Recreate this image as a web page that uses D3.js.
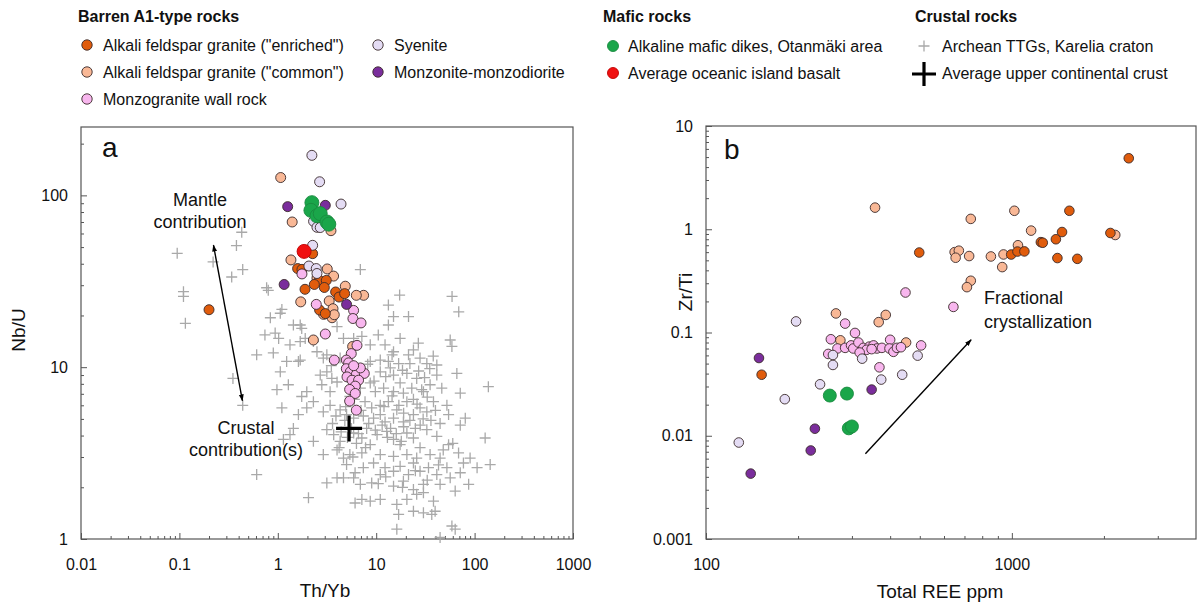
<!DOCTYPE html>
<html>
<head>
<meta charset="utf-8">
<script src="https://cdn.jsdelivr.net/npm/d3@7"></script>
<style>
body{margin:0;background:#fff;}
svg{font-family:"Liberation Sans",Arial,sans-serif;}
</style>
</head>
<body>
<svg id="chart" width="1199" height="605"></svg>
<script>

// ---- panel a : Th/Yb vs Nb/U ----
const a_enriched = [[0.20,21.6],[2.26,45.8],[1.59,37.5],[1.76,37.1],[1.89,28.4],[2.64,32.0],[3.11,32.0],[2.35,30.3],[2.97,29.1],[3.87,27.4],[4.19,25.6],[4.78,26.8],[2.66,21.5],[3.04,20.5]];
const a_common = [[1.07,127],[1.40,70],[3.47,62.3],[1.36,42.1],[3.18,37.3],[3.69,33.9],[2.5,33],[4.85,29.6],[7.45,26.2],[6.28,26.2],[1.71,24.0],[3.33,24.3],[3.64,21.9],[2.92,20.3],[3.56,19.4],[3.75,20.2],[2.30,14.4],[5.76,13.2]];
const a_monzogranite = [[1.76,34.9],[2.46,23.2],[5.89,21.4],[5.80,19.2],[7.01,18.1],[3.04,15.6],[6.38,13.4],[5.58,12.0],[3.75,11.0],[4.97,11.0],[5.25,10.6],[4.97,9.8],[5.46,9.4],[6.28,9.07],[7.57,9.2],[5.05,8.78],[5.68,8.4],[6.62,8.4],[6.12,7.76],[5.37,7.42],[6.12,7.03],[5.37,6.35],[6.28,5.62],[6.9,9.9],[5.9,10.2]];
const a_syenite = [[2.22,171],[2.66,120],[4.39,89],[2.31,70.6],[2.50,65.2],[2.70,65],[2.26,51.2],[2.07,38.8],[2.46,37.5],[2.50,35.1]];
const a_monzonite = [[1.26,86],[3.04,87.5],[2.68,74.8],[1.16,30.3],[5.0,23.2]];
const a_mafic = [[2.22,90.7],[2.17,81.8],[2.5,76],[2.70,78.3],[3.16,70],[3.3,68]];
const a_oib = [[1.85,47.2]];
const a_ucc = [[5.3,4.4]];
const a_arrow = [[0.437,6.38],[0.222,51.3]];

const ttg_karelia = [
 [0.43,61],[0.095,46],[0.38,51],[0.22,41],[0.44,37],[0.34,33.5],[6.9,37],
 [0.11,27.5],[0.11,25.8],[0.77,29],[0.80,28],[17.3,26.3],[59,25.8],[1.10,21.7],[1.06,20.6],[13.3,23],[21.3,19.7],[69,21],[15,19.7],[0.115,18],[0.84,19.4],[13.3,17.6],
 [0.74,15.4],[0.94,15.8],[1.02,14.7],[1.69,17.6],[1.75,16.8],[1.9,14.7],[1.44,17.6],[4.0,17.2],[4.65,14.7],[5.9,14.7],[7.15,15.1],[10.5,15.4],[17.5,14.7],[26.8,13.8],[56.5,14.4],[58.8,13.2],[0.61,11.8],[0.90,12.1],[1.33,13.5],[1.69,14.1],[2.3,14.1],[3.15,11.8],[8.7,13.5],[12.3,13.5],[15,12.3],[23.9,12.6],[21.3,11.8],[27.9,11.3],[2.9,11.3],[2.5,12.3],
 [1.23,10.8],[1.62,10.8],[1.69,11.0],[4.3,11.3],[8.7,10.8],[11,11],[13.3,10.8],[16.9,10.5],[32.7,10.5],[41.3,10.3],[66,9.2],[1.06,9.4],[2.7,9.0],[3.15,9.4],[3.54,8.6],[11,9.4],[13.9,9.9],[15,9.0],[20.5,9.2],[25.8,8.6],[41.3,9.0],[17.5,8.1],[23,7.55],[30.2,7.2],[35.3,7.9],[46.4,7.55],[71.5,7.06],[138,7.7],[1.28,7.9],[1.97,7.2],[2.8,7.9],[3.4,7.2],[6.9,7.55],[8.7,8.1],[9.8,7.2],[11.9,7.55],[15,7.2],[18.9,7.06],[0.35,8.6],[0.98,7.4],
 [1.1,5.8],[1.75,6.75],[2.3,6.3],[2.9,5.5],[3.4,6.0],[5.4,6.75],[7.7,6.3],[9.0,5.8],[11,6.0],[13.3,6.3],[16.2,5.65],[20.5,6.3],[23.9,6.5],[27.9,5.8],[32.7,5.5],[38.2,6.3],[52.3,6.0],[54.4,5.3],[80.4,5.05],[0.44,6.0],[1.62,5.3],[1.97,5.8],[4.3,5.65],[5.0,5.3],[5.9,5.05],[7.4,5.2],[9.4,5.05],[11,5.3],[12.3,4.8],[15,5.05],[18.9,4.8],[23.9,5.3],[44.6,4.7],[71.5,4.6],
 [1.44,4.4],[1.33,4.05],[1.14,3.8],[2.3,3.7],[3.15,4.33],[3.7,4.05],[4.3,3.7],[5.9,4.14],[7.15,3.87],[8.0,4.4],[10.2,4.05],[12.8,4.23],[15,3.8],[17.5,3.54],[20.5,4.14],[23.9,3.87],[27.9,3.4],[32.7,4.33],[41.3,3.96],[54.4,3.54],[68.7,3.17],[128,3.87],[2.9,3.1],[4.0,3.3],[5.4,3.1],[7.15,3.17],[8.7,3.54],[11,3.1],[15,3.03],[20.5,3.1],[25.8,2.96],[35.3,3.1],[44.6,2.96],[90,2.96],[77,2.77],
 [0.61,2.37],[3.15,2.12],[4.0,2.27],[4.65,2.96],[5.0,2.71],[6.1,2.43],[7.4,2.6],[9.4,2.77],[11,2.37],[12.3,2.6],[15,2.48],[17.5,2.65],[21.3,2.37],[23.9,2.77],[27.9,2.48],[34,2.6],[41.3,2.37],[52.3,2.6],[56.5,2.27],[71.5,2.43],[106,2.6],[144,2.71],[87,2.08],[4.65,2.27],[5.9,2.27],[6.9,2.08],[9.0,2.12],[15,2.03],[18.9,2.17],[23.9,1.94],[30.2,2.08],[44.6,2.08],[63.5,1.9],
 [2.05,1.74],[6.1,1.62],[7.15,1.7],[8.7,1.66],[11,1.7],[16.2,1.59],[20.5,1.7],[25.8,1.82],[30.2,1.86],[38.2,1.66],[23.9,1.45],[30.2,1.42],[36.7,1.39],[39.7,1.45],[16.9,1.39],[16.2,1.14],[58.8,1.19],[63.5,1.14],[44.6,1.02],
 [4.8,4.9],[5.6,4.4],[4.4,4.2],[6.3,3.6],[5.1,3.9],[4.2,3.4],[3.6,4.7],[6.6,4.1],[7.8,3.4],[5.8,3.0],[4.9,5.9],[3.9,5.2],[6.0,6.5],[7.0,5.6],[8.4,4.7],[9.8,4.3],[11.5,4.6],[13,3.9],[14,4.4],[16,4.1],[18,3.7],[19,4.5],[22,4.9],[25,4.4],[28,4.6],[30,5.0],[12,5.9],[14.5,6.8],[17,6.0],[19,5.4],[26,6.1],[29,7.4],[33,6.7],[36,4.9],[40,5.6],[9.5,8.3],[7.3,9.2],[8.2,10.4],[6.2,9.8],[5.5,8.8],[4.0,8.2],[3.5,10.2],[12.5,8.8],[14.5,11.8],[18.5,9.6],[22,10.5],[27,9.5],[31,8.7],[35,9.8],[38,11.6],[10.5,2.1],[12.5,2.3],[18.5,2.0],[25,2.5],[33,2.2],[43,2.7],[48,3.3],[60,3.6]
];

// ---- panel b : total REE vs Zr/Ti ----
const b_enriched = [[2411,4.87],[498,0.595],[152,0.039],[995,0.569],[1043,0.608],[1099,0.61],[1244,0.75],[1262,0.74],[1393,0.80],[1459,0.94],[1409,0.526],[1542,1.51],[1637,0.517],[2100,0.92]];
const b_common = [[357,1.62],[2178,0.88],[1019,1.51],[734,1.26],[1156,0.97],[1047,0.70],[650,0.60],[671,0.62],[655,0.53],[725,0.55],[854,0.545],[939,0.57],[930,0.43],[734,0.317],[713,0.275],[266,0.153],[387,0.148],[367,0.126],[275,0.084],[451,0.080]];
const b_monzogranite = [[449,0.244],[644,0.177],[285,0.122],[307,0.099],[256,0.086],[251,0.062],[269,0.070],[285,0.071],[298,0.075],[303,0.070],[315,0.080],[327,0.071],[342,0.073],[353,0.075],[362,0.070],[376,0.071],[400,0.085],[398,0.070],[410,0.065],[421,0.071],[434,0.072],[505,0.075],[369,0.046],[335,0.068],[348,0.069],[318,0.064]];
const b_syenite = [[197,0.128],[181,0.0226],[128,0.0086],[260,0.0605],[260,0.0485],[236,0.0315],[324,0.0558],[374,0.035],[438,0.039],[492,0.0597]];
const b_monzonite = [[149,0.0566],[348,0.028],[227,0.0117],[220,0.0072],[140,0.0043]];
const b_mafic = [[254,0.0245],[289,0.0256],[293,0.0118],[300,0.0123]];
const b_arrow = [[332,0.0067],[736,0.085]];

// ---- ticks ----
const a_xticks = [0.01,0.1,1,10,100,1000];
const a_xlabels = ["0.01","0.1","1","10","100","1000"];
const a_yticks = [1,10,100];
const a_ylabels = ["1","10","100"];
const b_xticks = [100,1000];
const b_xlabels = ["100","1000"];
const b_yticks = [0.001,0.01,0.1,1,10];
const b_ylabels = ["0.001","0.01","0.1","1","10"];

// ---- legend ----
const legend_groups = ["Barren A1-type rocks","Mafic rocks","Crustal rocks"];
const legend_barren = ["Alkali feldspar granite (\"enriched\")","Alkali feldspar granite (\"common\")","Monzogranite wall rock","Syenite","Monzonite-monzodiorite"];
const legend_mafic = ["Alkaline mafic dikes, Otanmäki area","Average oceanic island basalt"];
const legend_crustal = ["Archean TTGs, Karelia craton","Average upper continental crust"];

const col = {
	enriched: '#e05c0c',
	common: '#f9b896',
	monzogranite: '#f8b6ee',
	syenite: '#e4dcf4',
	monzonite: '#7a2d9c',
	mafic: '#1aa64a',
	oib: '#f01010',
	ttg: '#a9a9a9'
};

const svg = d3.select('#chart');

const xa = d3.scaleLog().domain([0.01,1000]).range([81,573]);
const ya = d3.scaleLog().domain([1,250]).range([539,127]);
const xb = d3.scaleLog().domain([100,4000]).range([706,1196]);
const yb = d3.scaleLog().domain([0.001,10]).range([539,126]);

const defs = svg.append('defs');
defs.append('marker')
		.attr('id','arrowhead')
		.attr('viewBox','0 0 10 10')
		.attr('refX',9).attr('refY',5)
		.attr('markerWidth',7).attr('markerHeight',7)
		.attr('markerUnits','userSpaceOnUse')
		.attr('orient','auto-start-reverse')
	.append('path')
		.attr('d','M0,1.5L10,5L0,8.5Z')
		.attr('fill','#000');

const minor_ticks = function(lo,hi){
	const out = [];
	for(let e = Math.floor(Math.log10(lo)); e < Math.ceil(Math.log10(hi)); e++){
		for(let m = 2; m <= 9; m++){
			const v = +(m*Math.pow(10,e)).toPrecision(6);
			if(v > lo && v < hi) out.push(v);
		}
	}
	return out;
};

const style_axis = function(g){
	g.select('.domain').remove();
	g.selectAll('line').attr('stroke','#555').attr('stroke-width',1);
	g.selectAll('text').attr('font-size',16).attr('fill','#111')
		.attr('font-family','"Liberation Sans",Arial,sans-serif');
};

const draw_axes = function(x,y,xt,xl,yt,yl){
	const x0 = x.range()[0], x1 = x.range()[1], y0 = y.range()[0], y1 = y.range()[1];

	svg.append('g').attr('transform',`translate(0,${y0})`)
		.call(d3.axisBottom(x).tickValues(xt).tickFormat((d,i) => xl[i]).tickSize(-6).tickPadding(20))
		.call(style_axis);
	svg.append('g').attr('transform',`translate(0,${y0})`)
		.call(d3.axisBottom(x).tickValues(minor_ticks(x.domain()[0],x.domain()[1])).tickFormat('').tickSize(-3))
		.call(style_axis);
	svg.append('g').attr('transform',`translate(${x0},0)`)
		.call(d3.axisLeft(y).tickValues(yt).tickFormat((d,i) => yl[i]).tickSize(-6).tickPadding(13))
		.call(style_axis);
	svg.append('g').attr('transform',`translate(${x0},0)`)
		.call(d3.axisLeft(y).tickValues(minor_ticks(y.domain()[0],y.domain()[1])).tickFormat('').tickSize(-3))
		.call(style_axis);

	svg.append('rect')
		.attr('x',x0).attr('y',y1)
		.attr('width',x1-x0).attr('height',y0-y1)
		.attr('fill','none')
		.attr('stroke','#555')
		.attr('stroke-width',1.2);
};

const plus_path = function(cx,cy,s){
	return `M${cx-s},${cy}h${2*s}M${cx},${cy-s}v${2*s}`;
};

const draw_circles = function(data,x,y,fill,r,stroke){
	svg.append('g').selectAll('circle')
			.data(data)
			.enter()
		.append('circle')
			.attr('cx', d => x(d[0]))
			.attr('cy', d => y(d[1]))
			.attr('r',r)
			.attr('fill',fill)
			.attr('stroke',stroke || '#3a2a2a')
			.attr('stroke-width',0.9);
};

const draw_text = function(lines,x,y,dy,anchor){
	const t = svg.append('text')
		.attr('font-size',18)
		.attr('fill','#111')
		.attr('text-anchor',anchor);
	lines.forEach(function(s,i){
		t.append('tspan').attr('x',x).attr('y',y + i*dy).text(s);
	});
};

// ---------- panel a ----------
draw_axes(xa,ya,a_xticks,a_xlabels,a_yticks,a_ylabels);

svg.append('g').selectAll('path')
		.data(ttg_karelia)
		.enter()
	.append('path')
		.attr('d', d => plus_path(xa(d[0]),ya(d[1]),5.5))
		.attr('stroke',col.ttg)
		.attr('stroke-width',1.3)
		.attr('fill','none');

svg.append('g').selectAll('path')
		.data(a_ucc)
		.enter()
	.append('path')
		.attr('d', d => plus_path(xa(d[0]),ya(d[1]),13))
		.attr('stroke','#000')
		.attr('stroke-width',3.2);

draw_circles(a_common,xa,ya,col.common,5);
draw_circles(a_enriched,xa,ya,col.enriched,5);
draw_circles(a_monzogranite,xa,ya,col.monzogranite,5);
draw_circles(a_syenite,xa,ya,col.syenite,5);
draw_circles(a_monzonite,xa,ya,col.monzonite,5);
draw_circles(a_mafic,xa,ya,col.mafic,7,'#1a8a40');
draw_circles(a_oib,xa,ya,col.oib,7,'#c00000');

svg.append('path')
	.attr('d',d3.line().x(d => xa(d[0])).y(d => ya(d[1]))(a_arrow))
	.attr('stroke','#000')
	.attr('stroke-width',1.4)
	.attr('marker-start','url(#arrowhead)')
	.attr('marker-end','url(#arrowhead)');

draw_text(['Mantle','contribution'],200,206,22,'middle');
draw_text(['Crustal','contribution(s)'],246,434,22,'middle');

svg.append('text').attr('x',102).attr('y',157).attr('font-size',28).attr('fill','#111').text('a');

svg.append('text')
	.attr('transform','translate(25,330) rotate(-90)')
	.attr('text-anchor','middle')
	.attr('font-size',19).attr('fill','#111')
	.text('Nb/U');
svg.append('text')
	.attr('x',325).attr('y',597)
	.attr('text-anchor','middle')
	.attr('font-size',19).attr('fill','#111')
	.text('Th/Yb');

// ---------- panel b ----------
draw_axes(xb,yb,b_xticks,b_xlabels,b_yticks,b_ylabels);

draw_circles(b_common,xb,yb,col.common,4.8);
draw_circles(b_enriched,xb,yb,col.enriched,4.8);
draw_circles(b_monzogranite,xb,yb,col.monzogranite,4.8);
draw_circles(b_syenite,xb,yb,col.syenite,4.8);
draw_circles(b_monzonite,xb,yb,col.monzonite,4.8);
draw_circles(b_mafic,xb,yb,col.mafic,6.5,'#1a8a40');

svg.append('path')
	.attr('d',d3.line().x(d => xb(d[0])).y(d => yb(d[1]))(b_arrow))
	.attr('stroke','#000')
	.attr('stroke-width',1.4)
	.attr('marker-end','url(#arrowhead)');

draw_text(['Fractional','crystallization'],984,304,24,'start');

svg.append('text').attr('x',724).attr('y',159).attr('font-size',28).attr('fill','#111').text('b');

svg.append('text')
	.attr('transform','translate(692,292) rotate(-90)')
	.attr('text-anchor','middle')
	.attr('font-size',19).attr('fill','#111')
	.text('Zr/Ti');
svg.append('text')
	.attr('x',940).attr('y',598)
	.attr('text-anchor','middle')
	.attr('font-size',19).attr('fill','#111')
	.text('Total REE ppm');

// ---------- legend ----------
const legend = svg.append('g').attr('font-size',16).attr('fill','#111');

const header_x = [78,603,915];
legend.selectAll('.legend-head')
		.data(legend_groups)
		.enter()
	.append('text')
		.attr('class','legend-head')
		.attr('x',(d,i) => header_x[i])
		.attr('y',22)
		.attr('font-weight','bold')
		.attr('font-size',16)
		.text(d => d);

const barren_fill = [col.enriched,col.common,col.monzogranite,col.syenite,col.monzonite];
const barren_pos = [[87,45],[87,72],[87,99],[378,45],[378,72]];
legend_barren.forEach(function(s,i){
	const p = barren_pos[i];
	legend.append('circle').attr('cx',p[0]).attr('cy',p[1]).attr('r',5.2)
		.attr('fill',barren_fill[i]).attr('stroke','#3a2a2a').attr('stroke-width',0.9);
	legend.append('text').attr('x',p[0]+16).attr('y',p[1]+5.5).text(s);
});

const mafic_fill = [col.mafic,col.oib];
const mafic_stroke = ['#1a8a40','#c00000'];
legend_mafic.forEach(function(s,i){
	const cy = 46 + i*27;
	legend.append('circle').attr('cx',613).attr('cy',cy).attr('r',5.5)
		.attr('fill',mafic_fill[i]).attr('stroke',mafic_stroke[i]).attr('stroke-width',0.9);
	legend.append('text').attr('x',628).attr('y',cy+5.5).text(s);
});

legend_crustal.forEach(function(s,i){
	const cy = 46 + i*27;
	legend.append('path')
		.attr('d',i === 0 ? plus_path(924,cy,5.5) : plus_path(924,cy+1,12))
		.attr('stroke',i === 0 ? col.ttg : '#000')
		.attr('stroke-width',i === 0 ? 1.3 : 3.2);
	legend.append('text').attr('x',942).attr('y',cy+5.5).text(s);
});

</script>
</body>
</html>
